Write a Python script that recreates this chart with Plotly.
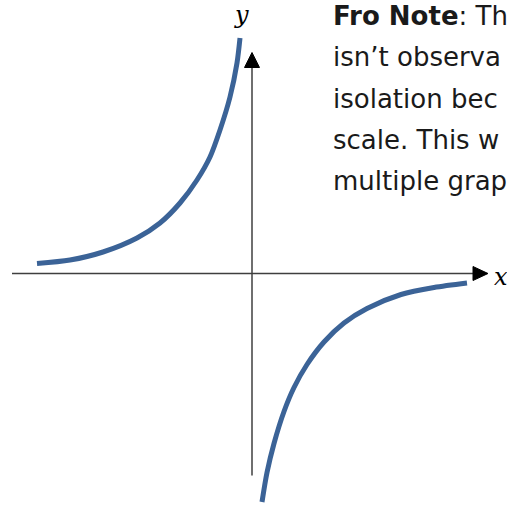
import plotly.graph_objects as go

# Reciprocal-style curve y = -k/x, sketched as two branches (units: 1 = 50 px)
left_x = [-4.30, -3.64, -2.98, -2.30, -1.84, -1.44, -1.10, -0.84, -0.64, -0.44, -0.30, -0.24]
left_y = [0.20, 0.27, 0.43, 0.71, 1.01, 1.41, 1.87, 2.33, 2.87, 3.53, 4.21, 4.71]
right_x = [0.20, 0.30, 0.44, 0.64, 0.84, 1.10, 1.44, 1.84, 2.30, 2.98, 3.64, 4.30]
right_y = [-4.57, -3.98, -3.40, -2.76, -2.28, -1.82, -1.37, -0.99, -0.70, -0.42, -0.28, -0.19]

note_lines = [
    "<b>Fro Note</b>: Th",
    "isn’t observa",
    "isolation bec",
    "scale. This w",
    "multiple grap",
]

CURVE = "#3B6397"
AXIS = "#3f3f3f"

fig = go.Figure()
for xs, ys in [(left_x, left_y), (right_x, right_y)]:
    fig.add_trace(go.Scatter(
        x=xs, y=ys, mode="lines",
        line=dict(color=CURVE, width=5, shape="spline", smoothing=0.8),
        hoverinfo="skip", showlegend=False,
    ))

shapes = [
    # x axis and arrowhead
    dict(type="line", x0=-4.80, y0=0, x1=4.44, y1=0, line=dict(color=AXIS, width=1.5)),
    dict(type="path", path="M 4.42 0.14 L 4.72 0 L 4.42 -0.14 Z",
         fillcolor="black", line=dict(color="black", width=1)),
    # y axis and arrowhead
    dict(type="line", x0=0, y0=-4.04, x1=0, y1=4.14, line=dict(color=AXIS, width=1.5)),
    dict(type="path", path="M -0.15 4.12 L 0 4.42 L 0.15 4.12 Z",
         fillcolor="black", line=dict(color="black", width=1)),
]

annotations = [
    dict(x=-0.22, y=5.18, xref="x", yref="y", text="y", showarrow=False,
         font=dict(family="DejaVu Serif", size=24, color="black", style="italic"),
         xanchor="center", yanchor="middle"),
    dict(x=4.98, y=-0.06, xref="x", yref="y", text="x", showarrow=False,
         font=dict(family="DejaVu Serif", size=24, color="black", style="italic"),
         xanchor="center", yanchor="middle"),
]
for i, line in enumerate(note_lines):
    annotations.append(dict(
        x=331 / 507, y=1 - (16 + 41.3 * i) / 505, xref="paper", yref="paper",
        text=line, showarrow=False, xanchor="left", yanchor="middle",
        font=dict(family="DejaVu Sans", size=26, color="#1a1a1a"),
    ))

fig.update_layout(
    width=507, height=505,
    margin=dict(l=0, r=0, t=0, b=0),
    paper_bgcolor="white", plot_bgcolor="white",
    xaxis=dict(range=[-5.04, 5.10], visible=False, fixedrange=True),
    yaxis=dict(range=[-4.63, 5.47], visible=False, fixedrange=True),
    shapes=shapes, annotations=annotations,
    showlegend=False,
)

fig.write_html("out.html")
